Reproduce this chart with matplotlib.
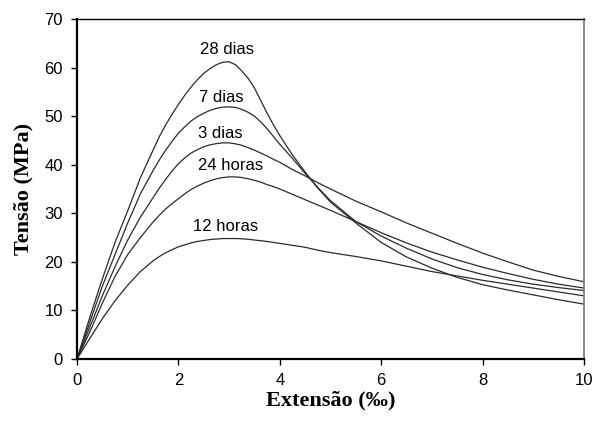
import matplotlib
matplotlib.use("Agg")
import matplotlib.pyplot as plt

strain = [0, 0.25, 0.5, 0.75, 1.0, 1.25, 1.5, 1.625, 1.75, 1.875, 2.0, 2.125,
          2.25, 2.375, 2.5, 2.625, 2.75, 2.875, 3.0, 3.125, 3.25, 3.375, 3.5,
          3.625, 3.75, 3.875, 4.0, 4.25, 4.5, 4.75, 5.0, 5.5, 6.0, 6.5, 7.0,
          7.5, 8.0, 8.5, 9.0, 9.5, 10.0]

s_28d = [0, 8.5, 16.5, 24.0, 30.5, 37.3, 43.0, 45.8, 48.2, 50.4, 52.4, 54.3,
         56.0, 57.5, 58.8, 59.8, 60.6, 61.1, 61.2, 60.6, 59.3, 57.8, 55.8,
         53.2, 50.6, 48.2, 46.0, 42.0, 38.5, 35.2, 32.3, 28.0, 24.0, 21.0, 18.7,
         16.8, 15.3, 14.2, 13.2, 12.2, 11.3]
s_7d = [0, 7.5, 15.0, 21.5, 28.0, 34.0, 38.8, 41.0, 43.0, 44.8, 46.5, 47.8,
        49.0, 49.9, 50.6, 51.2, 51.6, 51.85, 51.9, 51.8, 51.4, 50.8, 50.0,
        48.8, 47.4, 45.8, 44.2, 41.3, 38.2, 35.3, 32.6, 28.3, 25.3, 22.8, 20.6,
        18.8, 17.4, 16.3, 15.4, 14.7, 14.1]
s_3d = [0, 6.5, 13.0, 19.0, 24.5, 29.2, 33.2, 35.2, 37.0, 38.7, 40.2, 41.4,
        42.4, 43.1, 43.7, 44.1, 44.35, 44.5, 44.5, 44.3, 44.0, 43.5, 43.0,
        42.4, 41.8, 41.1, 40.5, 39.0, 37.7, 36.3, 35.0, 32.5, 30.3, 28.0, 25.9,
        23.8, 21.8, 20.0, 18.3, 17.0, 15.9]
s_24h = [0, 5.5, 11.5, 17.0, 21.5, 25.0, 28.2, 29.6, 30.9, 32.0, 33.0, 34.0,
         34.9, 35.6, 36.2, 36.7, 37.1, 37.35, 37.5, 37.5, 37.35, 37.1, 36.8,
         36.4, 35.9, 35.5, 35.0, 33.9, 32.8, 31.7, 30.6, 28.3, 26.0, 23.9, 22.0,
         20.4, 18.9, 17.6, 16.4, 15.4, 14.6]
s_12h = [0, 4.2, 8.3, 12.0, 15.2, 18.0, 20.2, 21.1, 21.9, 22.5, 23.1, 23.5,
         23.9, 24.2, 24.4, 24.6, 24.7, 24.8, 24.8, 24.8, 24.75, 24.65, 24.5,
         24.35, 24.2, 24.0, 23.8, 23.4, 23.0, 22.4, 21.9, 21.1, 20.2, 19.1, 18.0,
         17.1, 16.2, 15.4, 14.6, 13.8, 13.0]

labels = ["28 dias", "7 dias", "3 dias", "24 horas", "12 horas"]
label_x = [2.95, 2.85, 2.83, 3.02, 2.94]
label_y = [63.8, 53.9, 46.5, 39.8, 27.2]

x_ticks = [0, 2, 4, 6, 8, 10]
y_ticks = [0, 10, 20, 30, 40, 50, 60, 70]

fig = plt.figure(figsize=(5.95, 4.21), dpi=100)
ax = fig.add_axes([77/595, 1-359/421, (584-77)/595, (359-19)/421])

for s in [s_28d, s_7d, s_3d, s_24h, s_12h]:
    ax.plot(strain, s, color="#2b2b2b", lw=0.9)

for t, x, y in zip(labels, label_x, label_y):
    ax.text(x, y, t, ha="center", va="center", fontsize=12,
            family="Liberation Sans")

ax.set_xlim(0, 10)
ax.set_ylim(0, 70)
ax.set_xticks(x_ticks)
ax.set_yticks(y_ticks)
ax.tick_params(direction="out", length=4, width=1, labelsize=12, pad=6,
               top=False, right=False)
for lab in ax.get_xticklabels() + ax.get_yticklabels():
    lab.set_family("Liberation Sans")

ax.spines["left"].set_linewidth(1.6)
ax.spines["bottom"].set_linewidth(1.6)
ax.spines["top"].set_linewidth(1.0)
ax.spines["right"].set_linewidth(1.2)
ax.spines["right"].set_color("#777777")

ax.set_xlabel("Extensão (‰)", family="Liberation Serif", fontweight="bold",
              fontsize=16, labelpad=2)
ax.set_ylabel("Tensão (MPa)", family="Liberation Serif", fontweight="bold",
              fontsize=16, labelpad=8)

fig.savefig("out.png", dpi=100)
